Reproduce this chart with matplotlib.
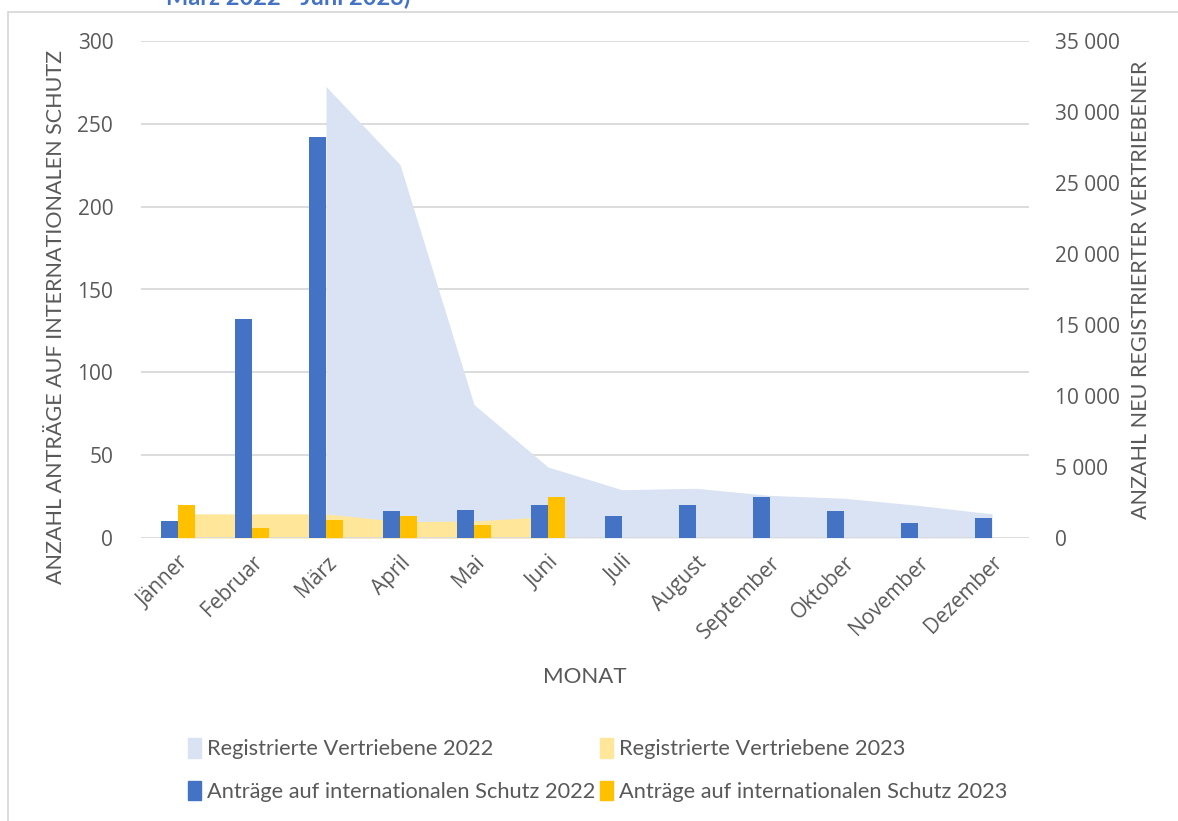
import matplotlib
import matplotlib.pyplot as plt
import matplotlib.patches as mpatches
from matplotlib.ticker import FuncFormatter
import numpy as np

matplotlib.use("Agg")

# Monate und Werte
monate = ["Jänner", "Februar", "März", "April", "Mai", "Juni", "Juli",
          "August", "September", "Oktober", "November", "Dezember"]
antraege_2022 = [10, 132, 242, 16, 17, 20, 13, 20, 25, 16, 9, 12]
antraege_2023 = [20, 6, 11, 13, 8, 25]
# Registrierte Vertriebene 2022 erst ab März
vertriebene_2022 = [31800, 26300, 9400, 5000, 3400, 3500, 3000, 2800, 2300, 1700]
vertriebene_2023 = [1700, 1700, 1700, 1150, 1200, 1500]

BLAU = "#4472C4"
GELB = "#FFC000"
HELLBLAU = "#DAE3F3"
HELLGELB = "#FFE699"
GRAU = "#595959"
GITTER = "#D9D9D9"

LABEL_FONT = "Lato"
TICK_FONT = "Open Sans"

fig = plt.figure(figsize=(11.78, 8.21), dpi=100)
ax = fig.add_axes([141 / 1178, 1 - 538 / 821, 888 / 1178, 497 / 821])
ax2 = ax.twinx()

# Flächen liegen hinten (ax2), Balken vorne (ax)
ax.set_zorder(ax2.get_zorder() + 1)
ax.patch.set_visible(False)

x = np.arange(len(monate))
ax2.set_ylim(0, 35000)
ax.set_ylim(0, 300)
ax.set_xlim(-0.5, 11.5)
ax2.set_xlim(-0.5, 11.5)

# Gitterlinien passend zur linken Achse
for v in range(50, 301, 50):
    ax2.axhline(v * 35000 / 300, color=GITTER, lw=1.3, zorder=0)
ax2.axhline(0, color=GITTER, lw=2, zorder=3)

ax2.fill_between(x[2:], vertriebene_2022, 0, color=HELLBLAU, lw=0, zorder=1)
ax2.fill_between(x[:len(vertriebene_2023)], vertriebene_2023, 0,
                 color=HELLGELB, lw=0, zorder=2)

bw = 0.23
ax.bar(x - bw / 2, antraege_2022, width=bw, color=BLAU, zorder=3)
ax.bar(x[:len(antraege_2023)] + bw / 2, antraege_2023, width=bw, color=GELB, zorder=3)

for a in (ax, ax2):
    for s in a.spines.values():
        s.set_visible(False)
    a.tick_params(length=0, colors=GRAU, labelsize=15)

ax.set_yticks(range(0, 301, 50))
ax.tick_params(axis="y", pad=20)
ax2.set_yticks(range(0, 35001, 5000))
ax2.yaxis.set_major_formatter(FuncFormatter(lambda v, p: f"{int(v):,}".replace(",", " ")))
ax2.tick_params(axis="y", pad=19)

ax.set_xticks(x)
ax.set_xticklabels(monate, rotation=45, ha="right", rotation_mode="anchor")
ax.tick_params(axis="x", pad=10)
for lbl in ax.get_xticklabels() + ax.get_yticklabels() + ax2.get_yticklabels():
    lbl.set_fontfamily(TICK_FONT)

fig.text(56 / 1178, 1 - 317 / 821, "ANZAHL ANTRÄGE AUF INTERNATIONALEN SCHUTZ",
         rotation=90, ha="center", va="center", fontsize=15.5,
         family=LABEL_FONT, color=GRAU)
fig.text(1141 / 1178, 1 - 290 / 821, "ANZAHL NEU REGISTRIERTER VERTRIEBENER",
         rotation=90, ha="center", va="center", fontsize=15.5,
         family=LABEL_FONT, color=GRAU)
fig.text(585 / 1178, 1 - 677 / 821, "MONAT", ha="center", va="center",
         fontsize=16, family=LABEL_FONT, color=GRAU)

# Titel, oben angeschnitten
fig.text(288 / 1178, 1 - 5 / 821, "März 2022 –Juni 2023)", ha="center",
         va="baseline", fontsize=17, fontweight="bold", family=LABEL_FONT,
         color=BLAU)

# Rahmen um die Grafik
fig.patches.append(mpatches.Rectangle((8 / 1178, -0.05), 1.1, 1 - 12 / 821 + 0.05,
                                      transform=fig.transFigure, fill=False,
                                      edgecolor=GITTER, lw=1.3))

handles = [
    mpatches.Patch(color=HELLBLAU, label="Registrierte Vertriebene 2022"),
    mpatches.Patch(color=BLAU, label="Anträge auf internationalen Schutz 2022"),
    mpatches.Patch(color=HELLGELB, label="Registrierte Vertriebene 2023"),
    mpatches.Patch(color=GELB, label="Anträge auf internationalen Schutz 2023"),
]
leg = fig.legend(handles=handles, ncol=2, loc="center left",
                 bbox_to_anchor=(177 / 1178, 1 - 770 / 821), frameon=False,
                 prop={"family": LABEL_FONT, "size": 15.7},
                 handlelength=0.6, handleheight=1.0, handletextpad=0.28,
                 labelspacing=0.97, columnspacing=0.2, borderpad=0)
for t in leg.get_texts():
    t.set_color(GRAU)

fig.savefig("out.png", dpi=100)
